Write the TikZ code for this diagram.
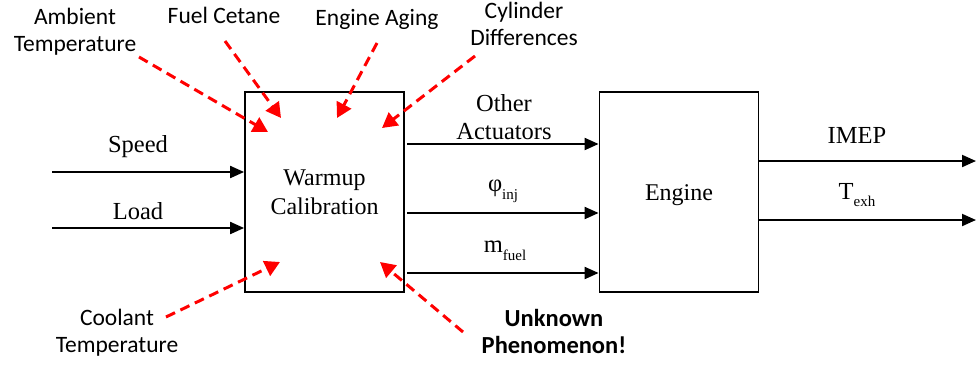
\documentclass[tikz,border=0pt]{standalone}
\usepackage{fontspec}
\setmainfont{Liberation Serif}
\newfontfamily\labfont{Carlito}
\usetikzlibrary{arrows.meta}
\tikzset{
  blockbox/.style={draw, line width=1.8pt, minimum width=159pt, minimum height=200pt, inner sep=0pt, font=\fontsize{24}{29}\selectfont, align=center},
  blk/.style={line width=2pt, -{Triangle[length=14pt,width=12pt]}},
  dist/.style={draw=red, line width=3pt, dash pattern=on 10pt off 6pt, -{Triangle[length=15pt,width=16pt]}},
  sig/.style={font=\fontsize{24.5}{28}\selectfont, inner sep=0pt, align=center},
  slab/.style={font=\labfont\fontsize{23.5}{27}\selectfont, inner sep=0pt, align=center}
}
\newcommand{\sbs}[1]{\raisebox{-0.32em}{\fontsize{15}{15}\selectfont #1}}
\begin{document}
\begin{tikzpicture}[x=1pt,y=-1pt]
\useasboundingbox (0,0) rectangle (976,367);
% blocks
\node[blockbox] (wc) at (324.5,192) {Warmup\\Calibration};
\node[blockbox] (eng) at (679,192) {};
\node[font=\fontsize{24}{29}\selectfont, inner sep=0pt, yshift=-3pt] (engtext) at (eng.center) {Engine};
% inputs
\coordinate (sp) at (52,172);
\coordinate (ld) at (52,228);
\draw[blk] (sp) -- (sp -| wc.west);
\draw[blk] (ld) -- (ld -| wc.west);
\node[sig] (lsp) at (138,147) {Speed};
\node[sig] (lld) at (138,211) {Load};
% actuator outputs
\coordinate (o1) at (407,144);
\coordinate (o2) at (407,213);
\coordinate (o3) at (407,273);
\draw[blk] (o1) -- (o1 -| eng.west);
\draw[blk] (o2) -- (o2 -| eng.west);
\draw[blk] (o3) -- (o3 -| eng.west);
\node[sig] (loa) at (504,117) {Other\\Actuators};
\node[sig] (lphi) at (503,191) {φ\sbs{inj}};
\node[sig] (lmf) at (505,251) {m\sbs{fuel}};
% engine outputs
\coordinate (e1) at (976,161);
\coordinate (e2) at (976,220);
\draw[blk] (e1 -| eng.east) -- (e1);
\draw[blk] (e2 -| eng.east) -- (e2);
\node[sig] (limep) at (857,135) {IMEP};
\node[sig] (ltexh) at (857,195) {T\sbs{exh}};
% disturbances
\node[slab] (amb) at (75,32) {Ambient\\Temperature};
\node[slab] (fc) at (224,15) {Fuel Cetane};
\node[slab] (ea) at (377,19) {Engine Aging};
\node[slab] (cd) at (524,24) {Cylinder\\Differences};
\node[slab] (cool) at (117,333) {Coolant\\Temperature};
\node[slab, font=\labfont\bfseries\fontsize{24.5}{27}\selectfont] (unk) at (554,331) {Unknown\\Phenomenon!};
\coordinate (a1s) at (139,57);
\coordinate (a1e) at (268,132);
\coordinate (a2s) at (225,41);
\coordinate (a2e) at (281,118);
\coordinate (a3s) at (377,43);
\coordinate (a3e) at (337,118);
\coordinate (a4s) at (475,56);
\coordinate (a4e) at (382,128);
\coordinate (a5s) at (166,317);
\coordinate (a5e) at (280,262);
\coordinate (a6s) at (463,332);
\coordinate (a6e) at (380,262);
\draw[dist] (a1s) -- (a1e);
\draw[dist] (a2s) -- (a2e);
\draw[dist] (a3s) -- (a3e);
\draw[dist] (a4s) -- (a4e);
\draw[dist] (a5s) -- (a5e);
\draw[dist] (a6s) -- (a6e);
\end{tikzpicture}
\end{document}
